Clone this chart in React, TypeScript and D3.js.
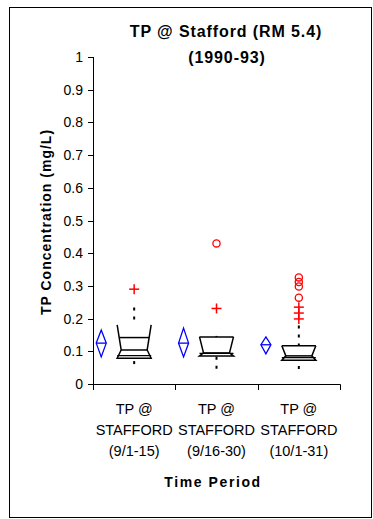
import React from "react";
import * as d3 from "d3";

const categories = ["(9/1-15)", "(9/16-30)", "(10/1-31)"];
const categoryLine1 = "TP @";
const categoryLine2 = "STAFFORD";
const yTicks = [0, 0.1, 0.2, 0.3, 0.4, 0.5, 0.6, 0.7, 0.8, 0.9, 1];

const meanValues = [0.125, 0.125, 0.12];
const meanLow = [0.083, 0.083, 0.092];
const meanHigh = [0.165, 0.171, 0.144];

const notchTop = [0.181, 0.144, 0.117];
const q3Values = [0.142, 0.144, 0.117];
const medianValues = [0.104, 0.095, 0.086];
const q1Values = [0.079, 0.086, 0.073];
const whiskerHigh = [0.231, 0.144, 0.176];
const whiskerLow = [0.064, 0.05, 0.049];

const mildOutliers = [[0.29], [0.231], [0.235, 0.217, 0.199]];
const extremeOutliers = [[], [0.43], [0.326, 0.312, 0.298, 0.264]];

const W = 373;
const H = 519;

export default function App() {
  const x = d3.scaleBand<string>().domain(categories).range([93, 340]).padding(0);
  const y = d3.scaleLinear().domain([0, 1]).range([384, 57]);
  const bw = x.bandwidth();
  const boxHalf = 17;
  const inset = 4;
  const font = "'Liberation Sans', Arial, sans-serif";

  return (
    <svg
      width={W}
      height={H}
      style={{ position: "absolute", left: 0, top: 0, background: "#fff" }}
      fontFamily={font}
    >
      <rect x={9.5} y={7.5} width={362} height={510} fill="#fff" stroke="#000" strokeWidth={1} />

      <text x={226} y={37} textAnchor="middle" fontWeight="bold" fontSize={16} letterSpacing={0.9}>
        TP @ Stafford (RM 5.4)
      </text>
      <text x={227} y={63} textAnchor="middle" fontWeight="bold" fontSize={16} letterSpacing={0.9}>
        (1990-93)
      </text>

      {/* y axis */}
      <line x1={93.5} x2={93.5} y1={y(1)} y2={y(0)} stroke="#000" strokeWidth={1} />
      {yTicks.map((t) => (
        <g key={t}>
          <line x1={88} x2={93.5} y1={Math.round(y(t)) + 0.5} y2={Math.round(y(t)) + 0.5} stroke="#000" />
          <text x={83} y={y(t) + 5} textAnchor="end" fontSize={14}>
            {d3.format("~g")(t)}
          </text>
        </g>
      ))}
      <text
        transform={`translate(51,222) rotate(-90)`}
        textAnchor="middle"
        fontWeight="bold"
        fontSize={14}
        letterSpacing={1}
      >
        TP Concentration (mg/L)
      </text>

      {/* x axis */}
      <line x1={93} x2={340.5} y1={384.5} y2={384.5} stroke="#000" strokeWidth={1} />
      {[...categories.map((c) => x(c) as number), 340].map((v, i) => (
        <line key={i} x1={Math.round(v) + 0.5} x2={Math.round(v) + 0.5} y1={384.5} y2={390} stroke="#000" />
      ))}
      {categories.map((c) => {
        const cx = (x(c) as number) + bw / 2;
        return (
          <g key={c} fontSize={14.5} textAnchor="middle">
            <text x={cx} y={414}>{categoryLine1}</text>
            <text x={cx} y={435}>{categoryLine2}</text>
            <text x={cx} y={456}>{c}</text>
          </g>
        );
      })}
      <text x={213} y={487} textAnchor="middle" fontWeight="bold" fontSize={14} letterSpacing={1.6}>
        Time Period
      </text>

      {/* marks */}
      {categories.map((c, i) => {
        const cx = (x(c) as number) + bw / 2;
        const L = cx - boxHalf;
        const R = cx + boxHalf;
        const top = Math.max(q3Values[i], notchTop[i]);
        const yTop = y(top);
        const yMed = y(medianValues[i]);
        const yQ1 = y(q1Values[i]);
        const yQ3 = y(q3Values[i]);
        const frac = yMed === yTop ? 0 : (yQ3 - yTop) / (yMed - yTop);
        const q3Inset = inset * frac;
        const poly = [
          [L, yTop],
          [L + inset, yMed],
          [L, yQ1],
          [R, yQ1],
          [R - inset, yMed],
          [R, yTop],
        ];
        const dx = cx - bw * 0.4;
        return (
          <g key={c}>
            {/* mean diamond */}
            <g stroke="#0000ff" strokeWidth={1.3} fill="none">
              <path
                d={`M${dx},${y(meanHigh[i])}L${dx + 5},${y(meanValues[i])}L${dx},${y(meanLow[i])}L${dx - 5},${y(meanValues[i])}Z`}
              />
              <line x1={dx - 5} x2={dx + 5} y1={y(meanValues[i])} y2={y(meanValues[i])} />
            </g>
            {/* whiskers */}
            <line x1={cx} x2={cx} y1={y(whiskerHigh[i]) - 1} y2={yQ3} stroke="#000" strokeWidth={2} strokeDasharray="3 6" />
            <line x1={cx} x2={cx} y1={y(whiskerLow[i]) + 1} y2={yQ1} stroke="#000" strokeWidth={2} strokeDasharray="3 6" />
            {/* box */}
            <path d={"M" + poly.map((p) => p.join(",")).join("L")} fill="#fff" stroke="#000" strokeWidth={1.5} />
            <line x1={L + q3Inset} x2={R - q3Inset} y1={yQ3} y2={yQ3} stroke="#000" strokeWidth={1.5} />
            <line x1={L + inset} x2={R - inset} y1={yMed} y2={yMed} stroke="#000" strokeWidth={1.5} />
            <line x1={L} x2={R} y1={yQ1 - 2.5} y2={yQ1 - 2.5} stroke="#000" strokeWidth={1.2} />
            {/* outliers */}
            {mildOutliers[i].map((v, j) => (
              <g key={"m" + j} stroke="#ff0000" strokeWidth={1.5}>
                <line x1={cx - 5} x2={cx + 5} y1={y(v)} y2={y(v)} />
                <line x1={cx} x2={cx} y1={y(v) - 5} y2={y(v) + 5} />
              </g>
            ))}
            {extremeOutliers[i].map((v, j) => (
              <circle key={"e" + j} cx={cx} cy={y(v)} r={3.6} fill="none" stroke="#ff0000" strokeWidth={1.3} />
            ))}
          </g>
        );
      })}
    </svg>
  );
}
